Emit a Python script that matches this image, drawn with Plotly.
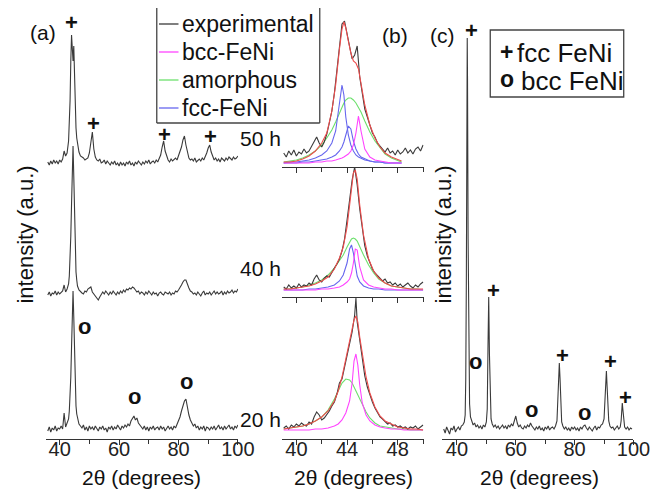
import plotly.graph_objects as go

W, H = 660, 489
FONT = "Liberation Sans, Arial, sans-serif"

# ---------------- data ----------------
# panel (a): XRD patterns after milling (a.u.), shared 2theta grid
two_theta_a = [36, 36.5, 37, 37.5, 38, 38.5, 39, 39.5, 40, 40.5,
               41, 41.5, 42, 42.5, 43, 43.25, 43.5, 43.75, 44, 44.25,
               44.5, 44.75, 45, 45.25, 45.5, 45.75, 46, 46.5, 47, 47.5,
               48, 48.5, 49, 49.5, 50, 50.5, 51, 51.5, 52, 52.5,
               53, 53.5, 54, 54.5, 55, 55.5, 56, 56.5, 57, 57.5,
               58, 58.5, 59, 59.5, 60, 60.5, 61, 61.5, 62, 62.5,
               63, 63.5, 64, 64.5, 65, 65.5, 66, 66.5, 67, 67.5,
               68, 68.5, 69, 69.5, 70, 70.5, 71, 71.5, 72, 72.5,
               73, 73.5, 74, 74.5, 75, 75.5, 76, 76.5, 77, 77.5,
               78, 78.5, 79, 79.5, 80, 80.5, 81, 81.5, 82, 82.5,
               83, 83.5, 84, 84.5, 85, 85.5, 86, 86.5, 87, 87.5,
               88, 88.5, 89, 89.5, 90, 90.5, 91, 91.5, 92, 92.5,
               93, 93.5, 94, 94.5, 95, 95.5, 96, 96.5, 97, 97.5,
               98, 98.5, 99, 99.5, 100]
int_20h_a = [8, 12, 7, 11, 9, 13, 8, 11, 10, 13,
             10, 26, 12, 16, 20, 28, 40, 62, 92, 125,
             148, 122, 80, 50, 33, 25, 20, 15, 13, 11,
             14, 9, 12, 8, 13, 10, 12, 9, 13, 10,
             8, 12, 10, 13, 9, 11, 7, 12, 10, 13,
             9, 12, 10, 14, 11, 9, 13, 11, 14, 12,
             15, 13, 18, 20, 23, 19, 21, 16, 14, 12,
             10, 13, 9, 12, 8, 12, 10, 13, 9, 11,
             12, 9, 13, 10, 12, 8, 11, 13, 10, 12,
             9, 13, 11, 15, 17, 22, 28, 34, 38, 40,
             30, 24, 19, 16, 13, 15, 11, 13, 9, 12,
             10, 13, 8, 12, 11, 9, 12, 10, 13, 9,
             11, 14, 10, 12, 9, 13, 10, 12, 14, 10,
             12, 9, 13, 11, 14]
int_40h_a = [9, 12, 8, 11, 10, 13, 9, 12, 10, 12,
             13, 19, 12, 15, 20, 28, 42, 68, 100, 135,
             158, 128, 85, 52, 32, 24, 18, 14, 12, 11,
             10, 13, 12, 15, 16, 17, 12, 10, 8, 6,
             4, 7, 9, 12, 10, 13, 11, 9, 12, 10,
             13, 11, 9, 12, 10, 13, 11, 14, 12, 15,
             14, 16, 15, 17, 16, 14, 12, 13, 10, 12,
             11, 9, 12, 10, 13, 11, 9, 12, 10, 11,
             8, 11, 12, 10, 9, 12, 11, 10, 12, 9,
             11, 10, 13, 12, 14, 16, 19, 22, 24, 24,
             19, 16, 13, 12, 10, 11, 9, 12, 10, 8,
             11, 13, 9, 11, 10, 12, 9, 11, 13, 10,
             12, 10, 11, 13, 9, 12, 10, 13, 11, 12,
             14, 11, 13, 12, 15]
int_50h_a = [11, 8, 12, 9, 13, 10, 12, 9, 13, 11,
             14, 22, 17, 20, 32, 48, 72, 112, 138, 125,
             112, 127, 90, 62, 45, 35, 28, 21, 17, 16,
             15, 13, 14, 15, 20, 34, 41, 24, 16, 13,
             12, 14, 10, 11, 13, 9, 12, 10, 8, 11,
             9, 12, 8, 10, 7, 11, 8, 10, 7, 11,
             9, 12, 8, 10, 7, 11, 9, 12, 10, 8,
             11, 9, 12, 10, 13, 9, 11, 12, 10, 13,
             11, 14, 18, 26, 32, 22, 16, 13, 11, 14,
             12, 14, 15, 13, 17, 20, 26, 33, 37, 28,
             20, 15, 13, 14, 12, 15, 11, 13, 14, 12,
             15, 13, 16, 20, 25, 28, 21, 16, 13, 15,
             12, 14, 11, 15, 13, 12, 15, 13, 16, 14,
             13, 16, 14, 15, 17]

# panel (b): main peak with fitted components
b_exp_x = [39.0, 39.2, 39.4, 39.6, 39.8, 40.0, 40.2, 40.4, 40.6, 40.8, 41.0, 41.2, 41.4, 41.6, 41.8,
           42.0, 42.2, 42.4, 42.6, 42.8, 43.0, 43.2, 43.4, 43.6, 43.8, 44.0, 44.2, 44.4, 44.6, 44.8,
           45.0, 45.2, 45.4, 45.6, 45.8, 46.0, 46.2, 46.4, 46.6, 46.8, 47.0, 47.2, 47.4, 47.6, 47.8,
           48.0, 48.2, 48.4, 48.6, 48.8, 49.0, 49.2, 49.4, 49.6, 49.8, 50.0]
b_exp_50h = [14, 10, 16, 12, 17, 11, 15, 13, 18, 14, 16, 21, 26, 30, 24,
             20, 25, 33, 44, 56, 74, 98, 125, 143, 146, 132, 118, 108, 112, 121,
             90, 72, 58, 50, 43, 34, 30, 24, 21, 18, 15, 19, 14, 16, 12,
             17, 13, 15, 19, 14, 17, 13, 18, 20, 16, 22]
b_exp_40h = [10, 8, 12, 9, 11, 9, 13, 10, 12, 11, 14, 12, 18, 22, 17,
             15, 19, 21, 20, 25, 29, 33, 38, 46, 58, 77, 99, 117, 130, 112,
             88, 67, 51, 41, 34, 28, 24, 21, 19, 16, 18, 14, 15, 12, 14,
             11, 13, 10, 12, 14, 11, 9, 12, 10, 13, 15]
b_exp_x20 = [39.0, 39.2, 39.4, 39.6, 39.8, 40.0, 40.2, 40.4, 40.6, 40.8, 41.0, 41.2, 41.4, 41.6, 41.8,
             42.0, 42.2, 42.4, 42.6, 42.8, 43.0, 43.2, 43.4, 43.6, 43.8, 44.0, 44.2, 44.4, 44.6, 44.7, 44.8,
             45.0, 45.2, 45.4, 45.6, 45.8, 46.0, 46.2, 46.4, 46.6, 46.8, 47.0, 47.2, 47.4, 47.6, 47.8,
             48.0, 48.2, 48.4, 48.6, 48.8, 49.0, 49.2, 49.4, 49.6, 49.8, 50.0]
b_exp_20h = [11, 13, 10, 14, 12, 15, 13, 16, 14, 13, 17, 15, 22, 27, 24,
             19, 21, 24, 28, 33, 37, 45, 56, 60, 71, 84, 96, 107, 124, 141, 117,
             99, 79, 63, 52, 44, 37, 31, 27, 22, 20, 17, 15, 16, 13, 14,
             12, 13, 11, 12, 10, 12, 11, 13, 10, 12, 14]

fit_x_50h = [39.0, 39.5, 40.0, 40.5, 41.0, 41.5, 42.0, 42.4, 42.8, 43.1, 43.4, 43.6, 43.75, 43.9, 44.1,
             44.3, 44.5, 44.7, 44.9, 45.1, 45.4, 45.8, 46.2, 46.6, 47.0, 47.5, 48.0, 48.3]
sum_50h = [5, 5, 6, 8, 11, 16, 24, 34, 56, 82, 118, 138, 145, 139, 126, 114, 106, 104, 98, 82, 62, 42, 29, 20, 14, 10, 7, 6]
amor_50h = [5, 6, 7, 9, 12, 16, 22, 29, 37, 45, 54, 60, 64, 67, 69, 69, 67, 64, 60, 55, 46, 35, 26, 19, 13, 9, 6, 5]
fcc1_50h = [4, 5, 5, 6, 7, 9, 12, 16, 24, 36, 62, 82, 72, 50, 32, 22, 16, 12, 10, 9, 7, 6, 5, 5, 4, 4, 4, 4]
fcc2_50h = [4, 4, 4, 5, 5, 6, 7, 8, 10, 12, 16, 20, 25, 32, 41, 38, 26, 18, 13, 10, 8, 6, 5, 5, 4, 4, 4, 4]
bcc_50h = [4, 4, 4, 4, 4, 5, 5, 6, 6, 7, 8, 9, 10, 11, 13, 16, 22, 34, 51, 36, 18, 10, 7, 6, 5, 4, 4, 4]

fit_x_40h = [39.0, 39.5, 40.0, 40.5, 41.0, 41.5, 42.0, 42.5, 43.0, 43.4, 43.7, 44.0, 44.2, 44.35, 44.5,
             44.65, 44.8, 45.0, 45.3, 45.7, 46.1, 46.5, 47.0, 47.5, 48.0, 48.5, 49.0, 49.5, 50.0]
sum_40h = [8, 8, 9, 10, 11, 13, 16, 20, 28, 39, 50, 70, 92, 110, 124, 127, 118, 92, 62, 38, 26, 19, 14, 11, 10, 9, 8, 8, 8]
amor_40h = [8, 8, 9, 10, 12, 14, 17, 22, 29, 36, 42, 50, 55, 58, 59, 58, 56, 50, 42, 32, 24, 18, 14, 11, 10, 9, 8, 8, 7]
fcc_40h = [7, 7, 7, 7, 8, 8, 9, 10, 12, 16, 22, 34, 48, 52, 44, 30, 21, 15, 11, 9, 8, 8, 7, 7, 7, 7, 7, 7, 7]
bcc_40h = [7, 7, 7, 7, 7, 7, 8, 8, 9, 10, 12, 15, 18, 24, 34, 48, 47, 30, 17, 12, 10, 9, 8, 8, 7, 7, 7, 7, 7]

fit_x_20h = [39.0, 39.5, 40.0, 40.5, 41.0, 41.5, 42.0, 42.5, 43.0, 43.3, 43.6, 43.9, 44.2, 44.4, 44.55,
             44.7, 44.85, 45.0, 45.2, 45.5, 45.8, 46.2, 46.6, 47.0, 47.5, 48.0, 48.5, 49.0, 49.5, 50.0]
sum_20h = [10, 11, 12, 13, 15, 18, 22, 28, 38, 48, 62, 80, 97, 110, 119, 123, 117, 102, 84, 62, 46, 32, 23, 18, 15, 12, 11, 10, 10, 9]
amor_20h = [10, 11, 12, 13, 15, 18, 22, 29, 40, 48, 56, 60, 59, 56, 52, 49, 45, 41, 35, 27, 21, 16, 13, 12, 11, 10, 10, 9, 9, 9]
bcc_20h = [9, 9, 9, 9, 9, 10, 10, 11, 13, 15, 19, 26, 38, 56, 78, 85, 74, 54, 36, 24, 18, 14, 12, 11, 10, 10, 9, 9, 9, 9]

# panel (c): annealed sample
two_theta_c = [35.5, 36, 36.5, 37, 37.5, 38, 38.5, 39, 39.5, 40,
               40.5, 41, 41.5, 42, 42.5, 42.8, 43.0, 43.2, 43.4, 43.5,
               43.6, 43.8, 44.0, 44.3, 44.6, 45, 45.5, 46, 46.5, 47,
               47.5, 48, 48.5, 49, 49.5, 50, 50.3, 50.55, 50.8, 51.05,
               51.3, 51.6, 52, 52.5, 53, 53.5, 54, 54.5, 55, 55.5,
               56, 56.5, 57, 57.5, 58, 58.5, 59, 59.5, 60, 60.5,
               61, 61.5, 62, 62.5, 63, 63.5, 64, 64.5, 65, 65.5,
               66, 66.5, 67, 67.5, 68, 68.5, 69, 69.5, 70, 70.5,
               71, 71.5, 72, 72.5, 73, 73.5, 74, 74.3, 74.55, 74.8,
               75.05, 75.3, 75.6, 76, 76.5, 77, 77.5, 78, 78.5, 79,
               79.5, 80, 80.5, 81, 81.5, 82, 82.5, 83, 83.5, 84,
               84.5, 85, 85.5, 86, 86.5, 87, 87.5, 88, 88.5, 89,
               89.5, 90, 90.3, 90.55, 90.8, 91.05, 91.3, 91.6, 92, 92.5,
               93, 93.5, 94, 94.5, 95, 95.5, 95.8, 96.0, 96.2, 96.45,
               96.7, 97, 97.5, 98, 98.5, 99, 99.5]
int_c = [10, 6, 12, 8, 5, 11, 9, 13, 7, 10,
         12, 9, 13, 14, 17, 24, 60, 160, 320, 401,
         360, 200, 80, 35, 22, 18, 14, 16, 12, 14,
         11, 13, 10, 14, 12, 17, 30, 90, 142, 85,
         35, 20, 15, 12, 14, 11, 13, 10, 12, 14,
         11, 13, 10, 14, 12, 15, 13, 17, 23, 16,
         12, 14, 11, 10, 13, 11, 14, 12, 16, 13,
         11, 9, 12, 10, 13, 9, 11, 8, 12, 10,
         13, 9, 11, 12, 10, 13, 18, 38, 65, 76,
         60, 30, 17, 13, 10, 12, 9, 11, 8, 12,
         10, 12, 9, 11, 8, 12, 10, 13, 14, 11,
         9, 12, 10, 8, 11, 13, 9, 12, 11, 14,
         15, 20, 38, 60, 68, 52, 30, 18, 13, 11,
         12, 9, 11, 13, 10, 12, 18, 32, 36, 28,
         16, 12, 10, 12, 9, 11, 10]

# reflection markers (2theta position of label, label height in a.u.)
fcc_a_x = [44.13, 51.48, 75.12, 90.73]
fcc_a_y = [151, 50, 39, 37]
bcc_a_x = [48.23, 65.04, 82.70]
bcc_a_y = [113, 43, 58]
fcc_c_x = [45.07, 52.47, 76.02, 92.07, 97.25]
fcc_c_y = [409, 149, 84, 78, 42]
bcc_c_x = [46.17, 65.41, 83.22]
bcc_c_y = [78, 30, 27]

time_labels = ["50 h", "40 h", "20 h"]
legend_names = ["experimental", "bcc-FeNi", "amorphous", "fcc-FeNi"]

# ---------------- styles ----------------
C_EXP = "#3a3a3a"
C_SUM = "#ee4c4c"
C_BCC = "#ff44ff"
C_AM = "#6ce06c"
C_FCC = "#6666ee"
AX = "#333333"


def px(x):
    return x / W


def py(y):
    return 1 - y / H


fig = go.Figure()


def line(x, y, xa, ya, color, width=1.1):
    fig.add_trace(go.Scatter(x=x, y=y, xaxis=xa, yaxis=ya, mode="lines",
                             line=dict(color=color, width=width), showlegend=False,
                             hoverinfo="skip"))


# panel (a)
line(two_theta_a, int_50h_a, "x", "y3", C_EXP)
line(two_theta_a, int_40h_a, "x", "y2", C_EXP)
line(two_theta_a, int_20h_a, "x", "y", C_EXP)
# panel (b)
for xs, ys, c in [(fit_x_50h, amor_50h, C_AM), (fit_x_50h, fcc1_50h, C_FCC), (fit_x_50h, fcc2_50h, C_FCC),
                  (fit_x_50h, bcc_50h, C_BCC), (b_exp_x, b_exp_50h, C_EXP), (fit_x_50h, sum_50h, C_SUM)]:
    line(xs, ys, "x2", "y4", c)
for xs, ys, c in [(fit_x_40h, amor_40h, C_AM), (fit_x_40h, fcc_40h, C_FCC), (fit_x_40h, bcc_40h, C_BCC),
                  (b_exp_x, b_exp_40h, C_EXP), (fit_x_40h, sum_40h, C_SUM)]:
    line(xs, ys, "x3", "y5", c)
for xs, ys, c in [(fit_x_20h, amor_20h, C_AM), (fit_x_20h, bcc_20h, C_BCC),
                  (b_exp_x20, b_exp_20h, C_EXP), (fit_x_20h, sum_20h, C_SUM)]:
    line(xs, ys, "x4", "y6", c)
# panel (c)
line(two_theta_c, int_c, "x5", "y7", C_EXP)

tickfont = dict(family=FONT, size=20, color="#222")


def xax(dom, rng, anchor, dtick, minor, labels=True):
    return dict(domain=[px(dom[0]), px(dom[1])], range=rng, anchor=anchor,
                showgrid=False, zeroline=False, showline=True, linecolor=AX, linewidth=1.3,
                ticks="outside", ticklen=5, tickwidth=1.2, tickcolor=AX,
                tickmode="linear", tick0=40, dtick=dtick, ticklabelstandoff=-13,
                minor=dict(dtick=minor, ticks="outside", ticklen=4, tickwidth=1.2, tickcolor=AX),
                showticklabels=labels, tickfont=tickfont)


def yax(zero_px, anchor):
    return dict(domain=[py(zero_px), 1], range=[0, zero_px], anchor=anchor, visible=False,
                showgrid=False, zeroline=False)


fig.update_layout(
    width=W, height=H, margin=dict(l=0, r=0, t=0, b=0),
    paper_bgcolor="white", plot_bgcolor="rgba(0,0,0,0)",
    font=dict(family=FONT, color="#222"),
    xaxis=xax((39, 236), [35.4, 100], "y", 20, 10),
    yaxis=yax(431, "x"), yaxis2=yax(296, "x"), yaxis3=yax(165, "x"),
    xaxis2=xax((281.7, 426.7), [38.9, 50.05], "y4", 4, 2, False),
    xaxis3=xax((281.7, 426.7), [38.9, 50.05], "y5", 4, 2, False),
    xaxis4=xax((281.7, 426.7), [38.9, 50.05], "y6", 4, 2, True),
    yaxis4=yax(159, "x2"), yaxis5=yax(289, "x3"), yaxis6=yax(431, "x4"),
    xaxis5=xax((445.7, 642), [35, 100], "y7", 20, 10),
    yaxis7=yax(431, "x5"),
    showlegend=False,
)

ann = []


def txt(x, y, s, size=21, xanchor="center", **kw):
    ann.append(dict(x=px(x), y=py(y), xref="paper", yref="paper", text=s, showarrow=False,
                    xanchor=xanchor, yanchor="middle", font=dict(family=FONT, size=size, color="#111"), **kw))


txt(36, 24, "(a)")
txt(397, 28, "(b)")
txt(446, 28, "(c)")
for lab, yy in zip(time_labels, [130, 260, 411]):
    txt(236, yy, lab, xanchor="left")
txt(17, 227, "intensity (a.u.)", size=22, textangle=-90)
txt(447, 226, "intensity (a.u.)", size=22, textangle=-90)
for cx in (137, 355, 546):
    txt(cx, 469, "2θ (degrees)", size=21)


def mark(xs, ys, sym, xa, ya):
    for xv, yv in zip(xs, ys):
        ann.append(dict(x=xv, y=yv, xref=xa, yref=ya, text="<b>%s</b>" % sym, showarrow=False,
                        xanchor="center", yanchor="middle", font=dict(family=FONT, size=22, color="#111")))


mark(fcc_a_x, fcc_a_y, "+", "x", "y3")
mark(bcc_a_x, bcc_a_y, "o", "x", "y")
mark(fcc_c_x, fcc_c_y, "+", "x5", "y7")
mark(bcc_c_x, bcc_c_y, "o", "x5", "y7")

shapes = []
# legend box for (a)/(b) (top edge outside the picture)
for (x0, y0, x1, y1) in [(152.7, -5, 152.7, 115), (320, -5, 320, 115), (152.7, 115, 320, 115)]:
    shapes.append(dict(type="line", xref="paper", yref="paper", x0=px(x0), y0=py(y0), x1=px(x1), y1=py(y1),
                       line=dict(color="#444", width=1.3)))
for name, col, yy in zip(legend_names, [C_EXP, C_BCC, C_AM, C_FCC], [16, 44, 72, 100]):
    shapes.append(dict(type="line", xref="paper", yref="paper", x0=px(155), y0=py(yy), x1=px(175), y1=py(yy),
                       line=dict(color=col, width=1.3)))
    txt(177, yy, name, size=23, xanchor="left")

# legend box for (c)
shapes.append(dict(type="rect", xref="paper", yref="paper", x0=px(495), y0=py(22), x1=px(632), y1=py(89),
                   line=dict(color="#444", width=1.3)))
txt(512, 44, "<b>+</b>", size=23)
txt(520, 45, "fcc FeNi", size=26, xanchor="left")
txt(512, 71, "<b>o</b>", size=23)
txt(525, 73, "bcc FeNi", size=26, xanchor="left")

fig.update_layout(annotations=ann, shapes=shapes)
fig.write_html("out.html")
